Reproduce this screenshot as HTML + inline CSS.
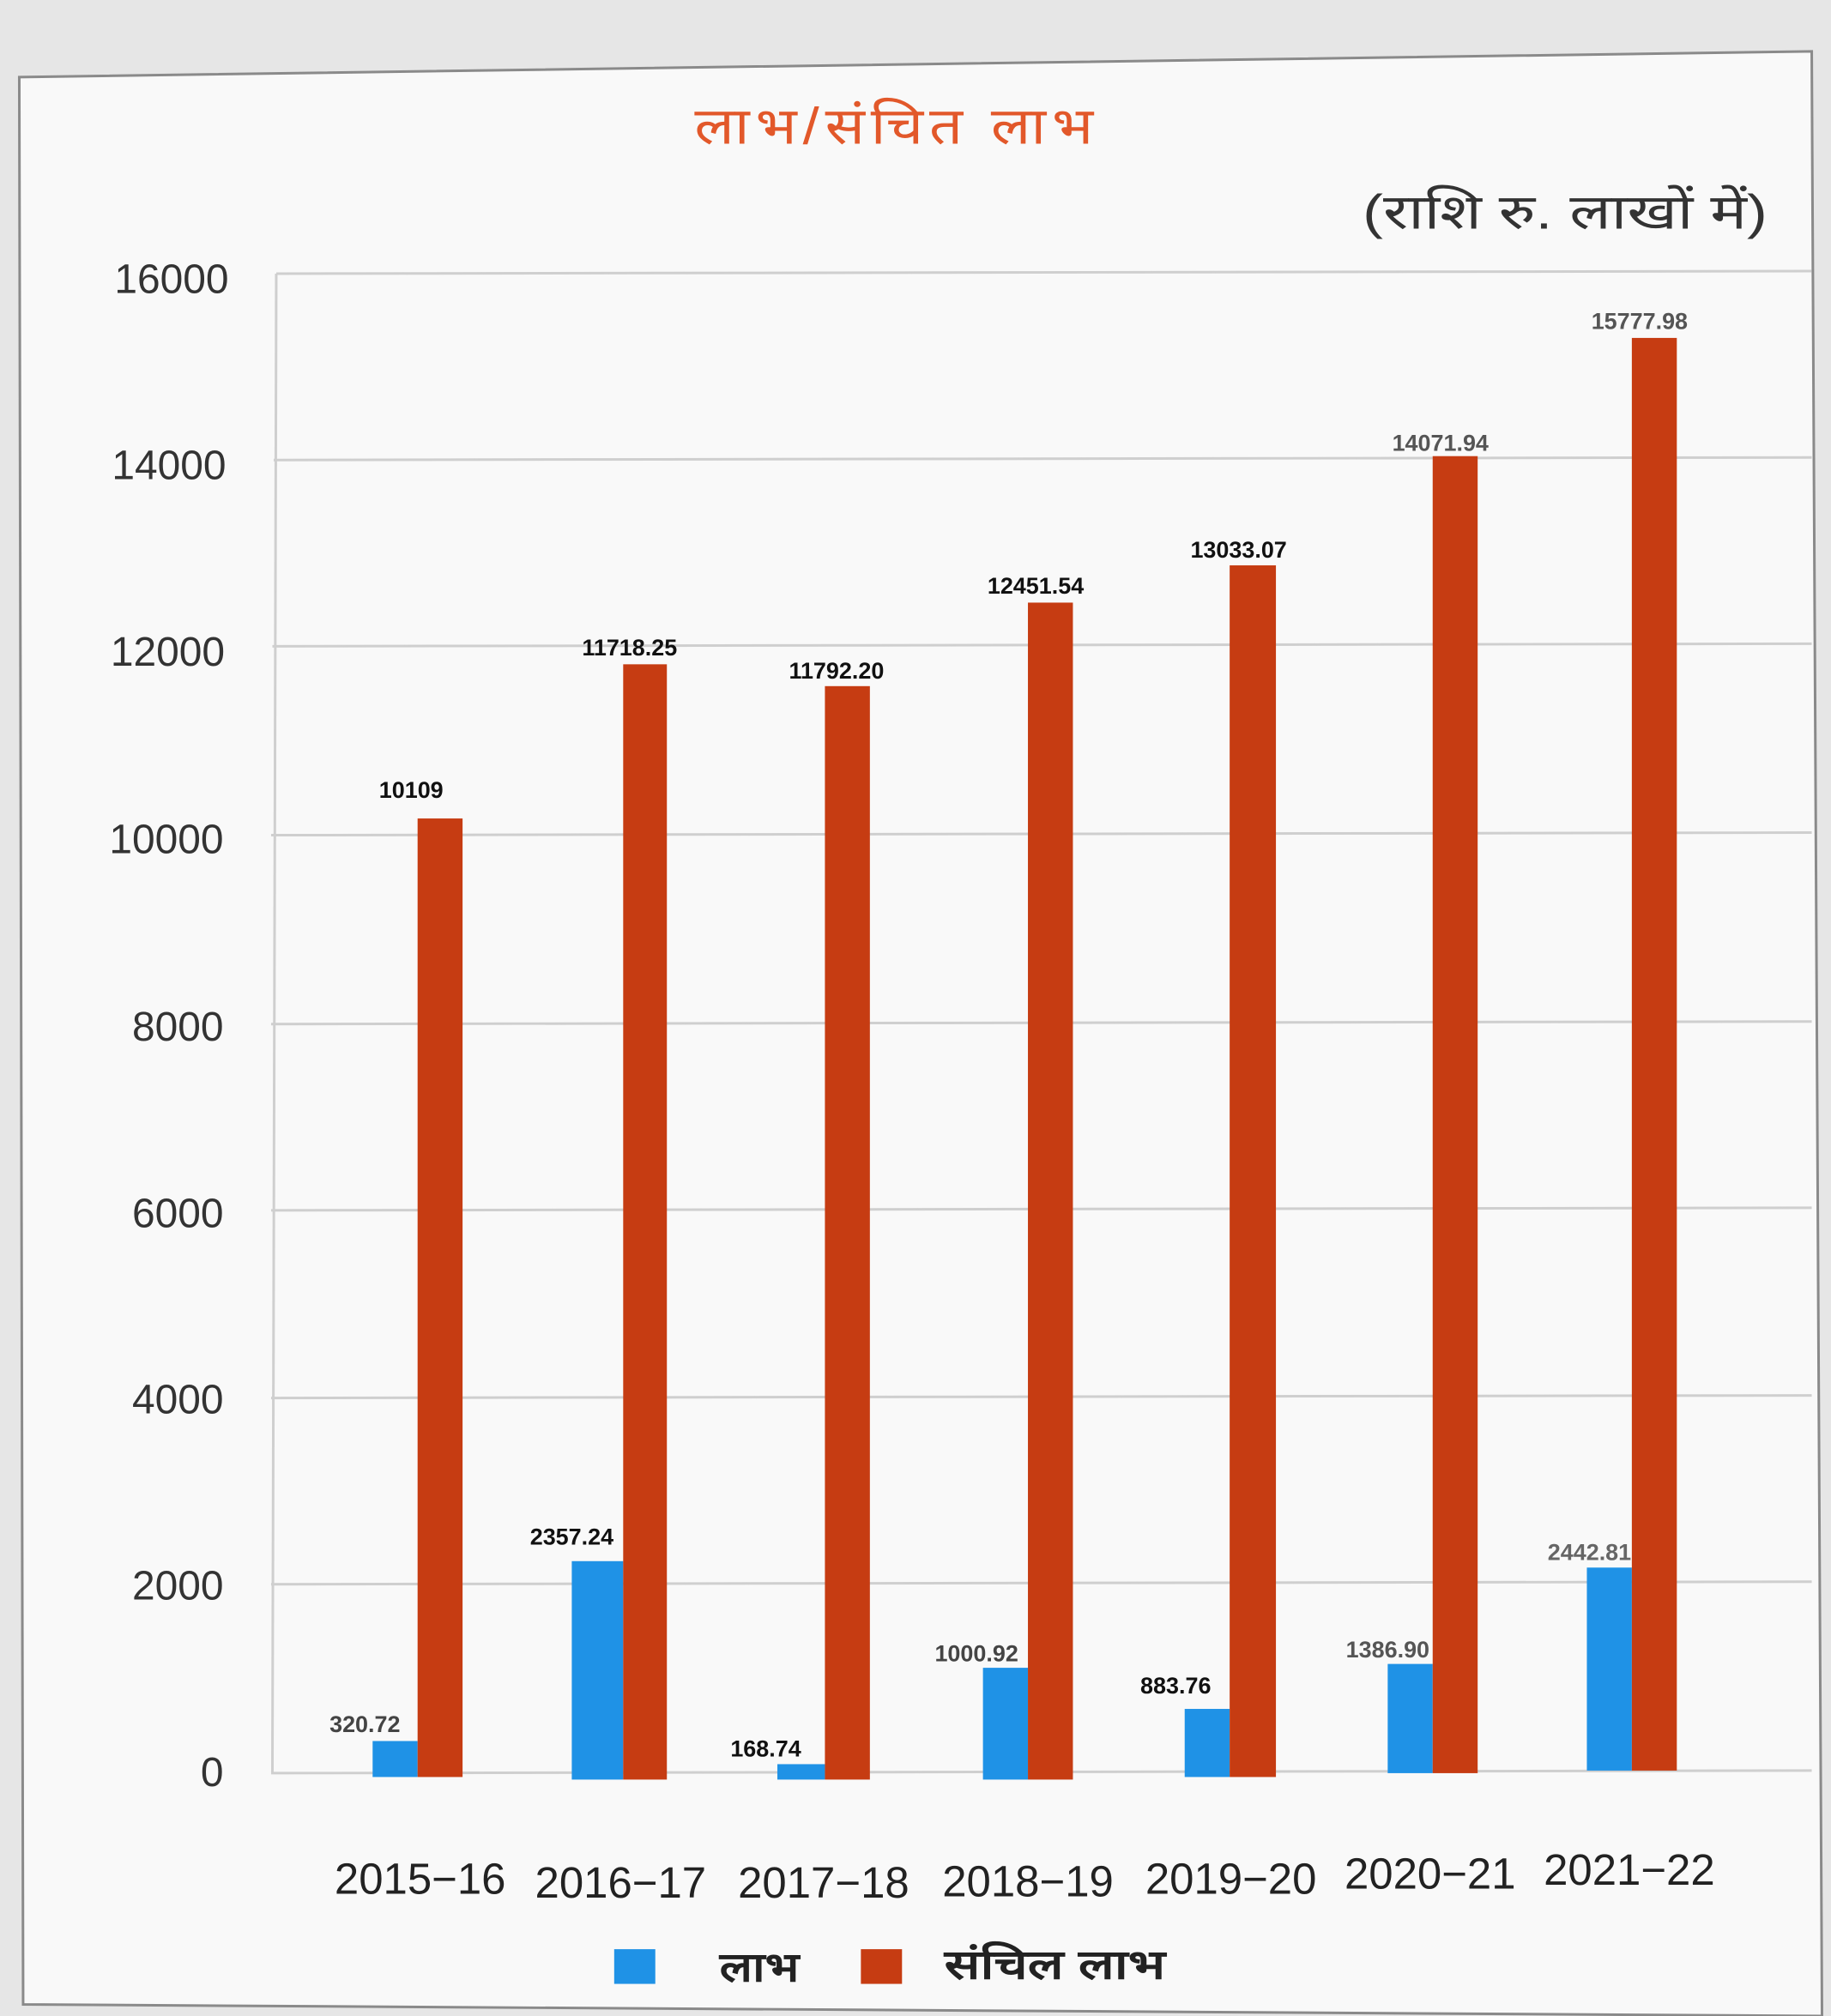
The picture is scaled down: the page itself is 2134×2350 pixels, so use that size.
<!DOCTYPE html>
<html><head><meta charset="utf-8"><style>
html,body{margin:0;padding:0;background:#ececec;}
svg{display:block;}
text{font-family:"Liberation Sans","Noto Sans CJK SC",sans-serif;}
</style></head><body>
<svg width="2134" height="2350" viewBox="0 0 1425 1569" preserveAspectRatio="none" xmlns="http://www.w3.org/2000/svg">
<rect width="1425" height="1569" fill="#e6e6e6"/>
<polygon points="15,60 1410,40 1418,1569 18,1560" fill="#f9f9f9" stroke="#8a8a8a" stroke-width="2"/>
<text x="698" y="112" font-size="40" fill="#e2582a" text-anchor="middle" textLength="315" lengthAdjust="spacingAndGlyphs" letter-spacing="4">लाभ/संचित लाभ</text>
<text x="1218" y="178" font-size="38" fill="#333" text-anchor="middle" textLength="315" lengthAdjust="spacingAndGlyphs">(राशि रु. लाखों में)</text>
<g stroke="#cfcfcf" stroke-width="2">
<line x1="215" y1="213" x2="1410" y2="211"/>
<line x1="213" y1="358" x2="1410" y2="356"/>
<line x1="212" y1="503" x2="1410" y2="501"/>
<line x1="211" y1="650" x2="1410" y2="648"/>
<line x1="211" y1="797" x2="1410" y2="795"/>
<line x1="211" y1="942" x2="1410" y2="940"/>
<line x1="211" y1="1088" x2="1410" y2="1086"/>
<line x1="211" y1="1233" x2="1410" y2="1231"/>
<line x1="211" y1="1380" x2="1410" y2="1378"/>
<line x1="215" y1="213" x2="212" y2="1380"/>
</g>
<g font-size="32" fill="#333" text-anchor="end">
<text x="178" y="228">16000</text><text x="176" y="373">14000</text><text x="175" y="518">12000</text>
<text x="174" y="664">10000</text><text x="174" y="810">8000</text><text x="174" y="955">6000</text>
<text x="174" y="1100">4000</text><text x="174" y="1245">2000</text><text x="174" y="1390">0</text>
</g>
<g fill="#1f92e6">
<rect x="290" y="1355" width="35" height="28"/><rect x="445" y="1215" width="40" height="170"/>
<rect x="605" y="1373" width="37" height="12"/><rect x="765" y="1298" width="35" height="87"/>
<rect x="922" y="1330" width="35" height="53"/><rect x="1080" y="1295" width="35" height="85"/>
<rect x="1235" y="1220" width="35" height="158"/>
</g>
<g fill="#c63c12">
<rect x="325" y="637" width="35" height="746"/><rect x="485" y="517" width="34" height="868"/>
<rect x="642" y="534" width="35" height="851"/><rect x="800" y="469" width="35" height="916"/>
<rect x="957" y="440" width="36" height="943"/><rect x="1115" y="355" width="35" height="1025"/>
<rect x="1270" y="263" width="35" height="1115"/>
</g>
<g font-size="18" font-weight="bold" fill="#111" text-anchor="middle">
<text x="320" y="621">10109</text><text x="490" y="510">11718.25</text><text x="651" y="528">11792.20</text>
<text x="806" y="462">12451.54</text><text x="964" y="434">13033.07</text>
<text x="1121" y="351" fill="#555">14071.94</text><text x="1276" y="256" fill="#555">15777.98</text>
<text x="284" y="1348" fill="#444">320.72</text><text x="445" y="1202">2357.24</text>
<text x="596" y="1367">168.74</text><text x="760" y="1293" fill="#444">1000.92</text>
<text x="915" y="1318">883.76</text><text x="1080" y="1290" fill="#555">1386.90</text>
<text x="1237" y="1214" fill="#666">2442.81</text>
</g>
<g font-size="34" fill="#222" text-anchor="middle">
<text x="327" y="1474">2015−16</text><text x="483" y="1477">2016−17</text><text x="641" y="1477">2017−18</text>
<text x="800" y="1476">2018−19</text><text x="958" y="1474">2019−20</text><text x="1113" y="1470">2020−21</text>
<text x="1268" y="1467">2021−22</text>
</g>
<rect x="478" y="1517" width="32" height="27" fill="#1f92e6"/>
<text x="560" y="1542" font-size="32" font-weight="bold" fill="#222" textLength="62" lengthAdjust="spacingAndGlyphs">लाभ</text>
<rect x="670" y="1517" width="32" height="27" fill="#c63c12"/>
<text x="735" y="1540" font-size="32" font-weight="bold" fill="#222" textLength="172" lengthAdjust="spacingAndGlyphs">संचिल लाभ</text>
</svg>
</body></html>
